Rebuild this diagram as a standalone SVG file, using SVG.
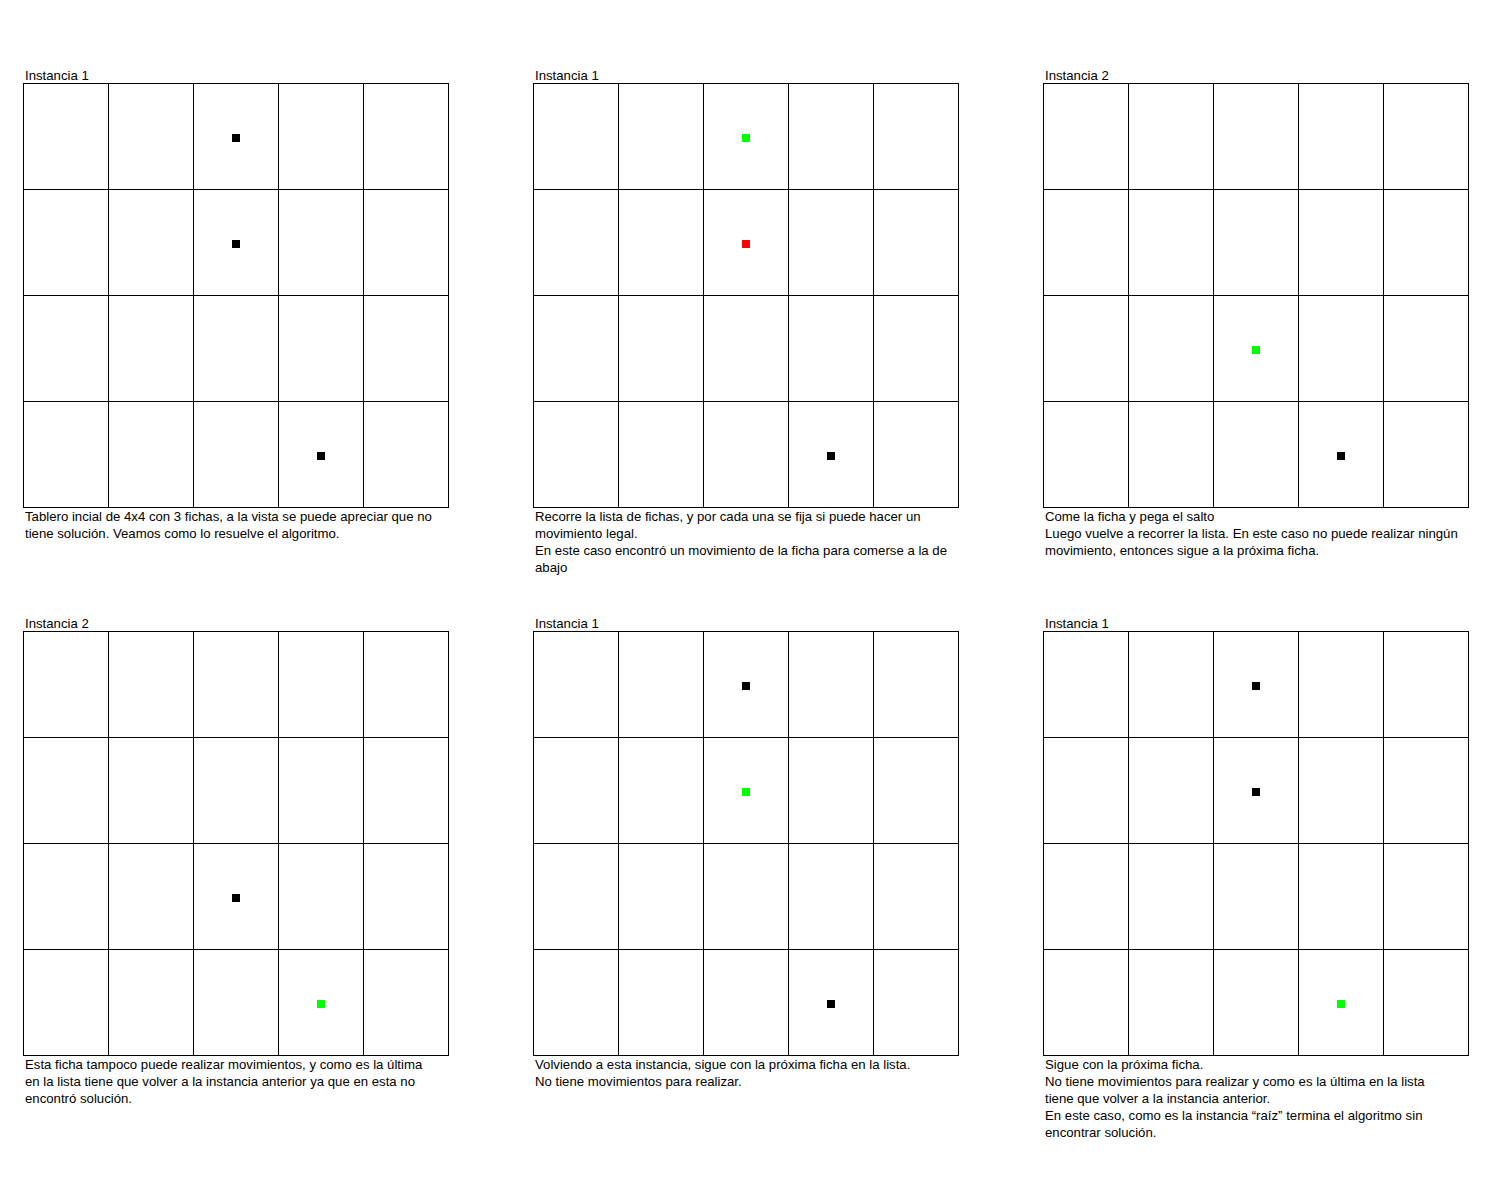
<svg xmlns="http://www.w3.org/2000/svg" xmlns:xlink="http://www.w3.org/1999/xlink" width="1500" height="1200" viewBox="0 0 1500 1200">
<style>
text{font-family:"Liberation Sans",Arial,sans-serif;font-size:13.2px;fill:#000}
.g{fill:none;stroke:#000;stroke-width:1}
.k{fill:#000}.gr{fill:#00ff00}.rd{fill:#ff0000}
</style>
<defs>
<g id="grid">
<rect class="g" x="0.5" y="0.5" width="425" height="424"/>
<path class="g" d="M85.5 0.5V424.5M170.5 0.5V424.5M255.5 0.5V424.5M340.5 0.5V424.5M0.5 106.5H425.5M0.5 212.5H425.5M0.5 318.5H425.5"/>
</g>
</defs>
<rect width="1500" height="1200" fill="#fff"/>
<g id="panel1" transform="translate(23,83)">
<text x="2" y="-3">Instancia 1</text>
<use xlink:href="#grid"/>
<rect class="k" x="209" y="51" width="8" height="8"/>
<rect class="k" x="209" y="157" width="8" height="8"/>
<rect class="k" x="294" y="369" width="8" height="8"/>
<text x="2" y="438">Tablero incial de 4x4 con 3 fichas, a la vista se puede apreciar que no</text>
<text x="2" y="455">tiene solución. Veamos como lo resuelve el algoritmo.</text>
</g>
<g id="panel2" transform="translate(533,83)">
<text x="2" y="-3">Instancia 1</text>
<use xlink:href="#grid"/>
<rect class="gr" x="209" y="51" width="8" height="8"/>
<rect class="rd" x="209" y="157" width="8" height="8"/>
<rect class="k" x="294" y="369" width="8" height="8"/>
<text x="2" y="438">Recorre la lista de fichas, y por cada una se fija si puede hacer un</text>
<text x="2" y="455">movimiento legal.</text>
<text x="2" y="472">En este caso encontró un movimiento de la ficha para comerse a la de</text>
<text x="2" y="489">abajo</text>
</g>
<g id="panel3" transform="translate(1043,83)">
<text x="2" y="-3">Instancia 2</text>
<use xlink:href="#grid"/>
<rect class="gr" x="209" y="263" width="8" height="8"/>
<rect class="k" x="294" y="369" width="8" height="8"/>
<text x="2" y="438">Come la ficha y pega el salto</text>
<text x="2" y="455">Luego vuelve a recorrer la lista. En este caso no puede realizar ningún</text>
<text x="2" y="472">movimiento, entonces sigue a la próxima ficha.</text>
</g>
<g id="panel4" transform="translate(23,631)">
<text x="2" y="-3">Instancia 2</text>
<use xlink:href="#grid"/>
<rect class="k" x="209" y="263" width="8" height="8"/>
<rect class="gr" x="294" y="369" width="8" height="8"/>
<text x="2" y="438">Esta ficha tampoco puede realizar movimientos, y como es la última</text>
<text x="2" y="455">en la lista tiene que volver a la instancia anterior ya que en esta no</text>
<text x="2" y="472">encontró solución.</text>
</g>
<g id="panel5" transform="translate(533,631)">
<text x="2" y="-3">Instancia 1</text>
<use xlink:href="#grid"/>
<rect class="k" x="209" y="51" width="8" height="8"/>
<rect class="gr" x="209" y="157" width="8" height="8"/>
<rect class="k" x="294" y="369" width="8" height="8"/>
<text x="2" y="438">Volviendo a esta instancia, sigue con la próxima ficha en la lista.</text>
<text x="2" y="455">No tiene movimientos para realizar.</text>
</g>
<g id="panel6" transform="translate(1043,631)">
<text x="2" y="-3">Instancia 1</text>
<use xlink:href="#grid"/>
<rect class="k" x="209" y="51" width="8" height="8"/>
<rect class="k" x="209" y="157" width="8" height="8"/>
<rect class="gr" x="294" y="369" width="8" height="8"/>
<text x="2" y="438">Sigue con la próxima ficha.</text>
<text x="2" y="455">No tiene movimientos para realizar y como es la última en la lista</text>
<text x="2" y="472">tiene que volver a la instancia anterior.</text>
<text x="2" y="489">En este caso, como es la instancia “raíz” termina el algoritmo sin</text>
<text x="2" y="506">encontrar solución.</text>
</g>
<g id="connectors"/>
</svg>
